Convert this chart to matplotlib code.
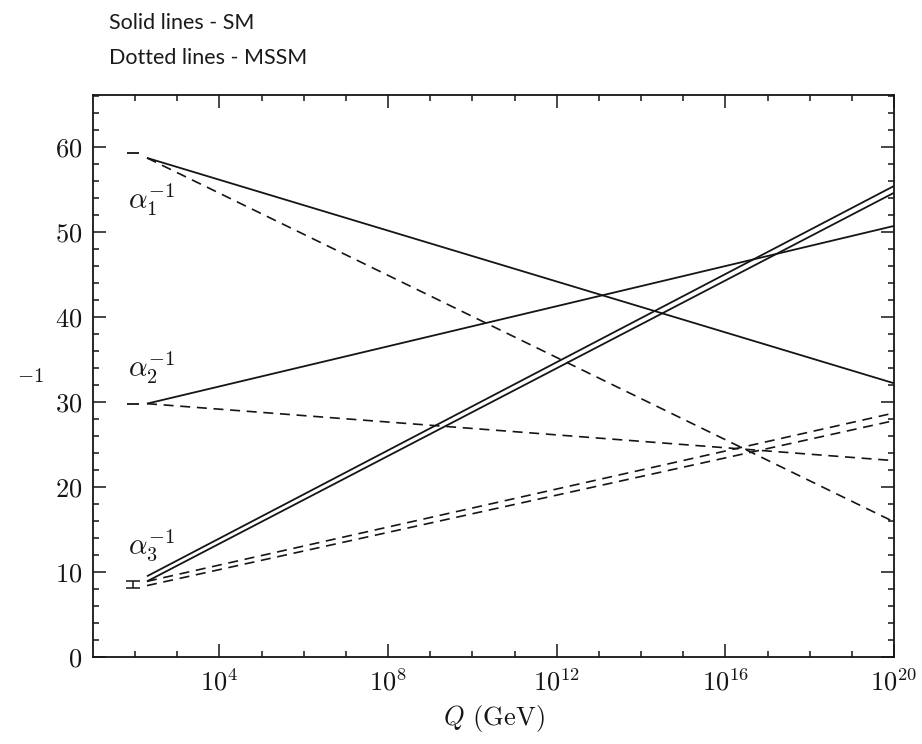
import matplotlib
matplotlib.use("Agg")
import matplotlib.pyplot as plt
from matplotlib.ticker import FixedLocator, LogFormatterMathtext, MultipleLocator

plt.rcParams["font.family"] = "serif"
plt.rcParams["font.serif"] = ["cmr10"]
plt.rcParams["mathtext.fontset"] = "cm"
plt.rcParams["axes.unicode_minus"] = False
plt.rcParams["axes.formatter.use_mathtext"] = True

# running couplings, start and end of each line (Q in GeV)
q_range = [10**2.28, 1e20]
sm_a1 = [58.7, 32.2]
sm_a2 = [29.8, 50.7]
sm_a3_hi = [9.5, 55.4]
sm_a3_lo = [8.9, 54.6]
mssm_a1 = [58.7, 15.9]
mssm_a2 = [29.8, 23.1]
mssm_a3_hi = [8.9, 28.7]
mssm_a3_lo = [8.4, 27.8]

# measured values at M_Z
q_mz = 10**1.96
measured = [59.3, 29.8, 8.55]
measured_err = [0.0, 0.0, 0.4]

labels = [r"$\alpha_1^{-1}$", r"$\alpha_2^{-1}$", r"$\alpha_3^{-1}$"]
label_y = [53.8, 34.0, 13.2]
label_q = 10**2.4

INK = "#151515"

fig = plt.figure(figsize=(9.22, 7.44), dpi=100)
ax = fig.add_axes([0.1009, 0.1169, 0.8687, 0.7554])

for vals in (sm_a1, sm_a2, sm_a3_hi, sm_a3_lo):
    ax.plot(q_range, vals, color=INK, lw=1.3, solid_capstyle="butt")
for vals in (mssm_a1, mssm_a2, mssm_a3_hi, mssm_a3_lo):
    ax.plot(q_range, vals, color=INK, lw=1.2, dashes=(6, 4))

for val, err in zip(measured, measured_err):
    if err > 0:
        ax.errorbar(q_mz, val, yerr=err, color=INK, lw=1.1, capsize=5,
                    capthick=1.1)
    else:
        ax.plot(q_mz, val, marker="_", ms=9, mew=1.3, color=INK)

for text, y in zip(labels, label_y):
    ax.text(label_q, y, text, fontsize=21, ha="center", va="center",
            color=INK)

ax.set_xscale("log")
ax.set_xlim(1e1, 1e20)
ax.set_ylim(0, 66.1)
ax.xaxis.set_major_locator(FixedLocator([1e4, 1e8, 1e12, 1e16, 1e20]))
ax.xaxis.set_minor_locator(FixedLocator([10.0**k for k in range(2, 20)]))
ax.xaxis.set_major_formatter(LogFormatterMathtext())
ax.xaxis.set_minor_formatter(plt.NullFormatter())
ax.yaxis.set_major_locator(MultipleLocator(10))
ax.yaxis.set_minor_locator(MultipleLocator(2))

ax.tick_params(which="both", direction="in", top=True, right=True,
               colors=INK, labelsize=19, width=1.1)
ax.tick_params(which="major", length=9.5, pad=8)
ax.tick_params(which="minor", length=4)
for spine in ax.spines.values():
    spine.set_linewidth(1.3)
    spine.set_color(INK)

ax.set_xlabel(r"$Q$ (GeV)", fontsize=19, labelpad=6, color=INK)
fig.text(0.033, 0.493, r"$-1$", fontsize=15, ha="center", va="center",
         color=INK)

fig.text(0.118, 0.969, "Solid lines - SM", family="Lato", fontsize=15.5,
         va="center", color="#1a1a1a")
fig.text(0.118, 0.922, "Dotted lines - MSSM", family="Lato", fontsize=15.5,
         va="center", color="#1a1a1a")

fig.savefig("out.png", dpi=100)
